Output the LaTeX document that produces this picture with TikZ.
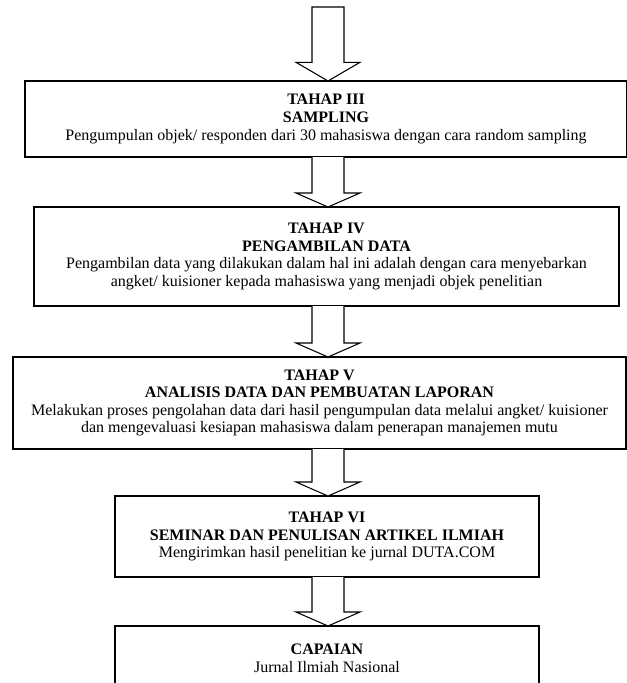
\documentclass[tikz,border=0pt]{standalone}
\usepackage{fontspec}
\setmainfont{Liberation Serif}
\usetikzlibrary{calc}
\begin{document}
\begin{tikzpicture}[x=0.75pt,y=-0.75pt,
  stagebox/.style={draw=black,line width=1.3pt,rectangle,inner sep=0pt,outer sep=0pt,
    align=center,font=\fontsize{12}{13.2}\selectfont},
  blockarr/.style={draw=black,line width=0.8pt,fill=white,line join=miter}]
\useasboundingbox (0,0) rectangle (627,683);
\coordinate (ax) at (328,0);
\coordinate (topend) at (328,7);
\node[stagebox,minimum width=451.5pt,minimum height=57pt] (b1) at (326,119)
  {\textbf{TAHAP III}\\\textbf{SAMPLING}\\Pengumpulan objek/ responden dari 30 mahasiswa dengan cara random sampling};
\node[stagebox,minimum width=438.75pt,minimum height=74.25pt] (b2) at (326.5,256.5)
  {\textbf{TAHAP IV}\\\textbf{PENGAMBILAN DATA}\\Pengambilan data yang dilakukan dalam hal ini adalah dengan cara menyebarkan\\angket/ kuisioner kepada mahasiswa yang menjadi objek penelitian};
\node[stagebox,minimum width=459.75pt,minimum height=69pt] (b3) at (319.5,403)
  {\textbf{TAHAP V}\\\textbf{ANALISIS DATA DAN PEMBUATAN LAPORAN}\\Melakukan proses pengolahan data dari hasil pengumpulan data melalui angket/ kuisioner\\dan mengevaluasi kesiapan mahasiswa dalam penerapan manajemen mutu};
\node[stagebox,minimum width=318pt,minimum height=60.75pt] (b4) at (327,536.5)
  {\textbf{TAHAP VI}\\\textbf{SEMINAR DAN PENULISAN ARTIKEL ILMIAH}\\Mengirimkan hasil penelitian ke jurnal DUTA.COM};
\node[stagebox,minimum width=318pt,minimum height=48pt] (b5) at (327,658)
  {\textbf{CAPAIAN}\\Jurnal Ilmiah Nasional};
% block arrows
\draw[blockarr] let \p1=(topend), \p2=(ax |- b1.north) in
  (\x1-12pt,\y1) -- (\x1-12pt,\y2+14pt) -- (\x1-24pt,\y2+14pt) -- (\x1,\y2)
  -- (\x1+24pt,\y2+14pt) -- (\x1+12pt,\y2+14pt) -- (\x1+12pt,\y1) -- cycle;
\draw[blockarr] let \p1=(ax |- b1.south), \p2=(ax |- b2.north) in
  (\x1-12pt,\y1) -- (\x1-12pt,\y2+10.5pt) -- (\x1-24pt,\y2+10.5pt) -- (\x1,\y2)
  -- (\x1+24pt,\y2+10.5pt) -- (\x1+12pt,\y2+10.5pt) -- (\x1+12pt,\y1);
\draw[blockarr] let \p1=(ax |- b2.south), \p2=(ax |- b3.north) in
  (\x1-12pt,\y1) -- (\x1-12pt,\y2+10.5pt) -- (\x1-24pt,\y2+10.5pt) -- (\x1,\y2)
  -- (\x1+24pt,\y2+10.5pt) -- (\x1+12pt,\y2+10.5pt) -- (\x1+12pt,\y1);
\draw[blockarr] let \p1=(ax |- b3.south), \p2=(ax |- b4.north) in
  (\x1-12pt,\y1) -- (\x1-12pt,\y2+10.5pt) -- (\x1-24pt,\y2+10.5pt) -- (\x1,\y2)
  -- (\x1+24pt,\y2+10.5pt) -- (\x1+12pt,\y2+10.5pt) -- (\x1+12pt,\y1);
\draw[blockarr] let \p1=(ax |- b4.south), \p2=(ax |- b5.north) in
  (\x1-12pt,\y1) -- (\x1-12pt,\y2+10.5pt) -- (\x1-24pt,\y2+10.5pt) -- (\x1,\y2)
  -- (\x1+24pt,\y2+10.5pt) -- (\x1+12pt,\y2+10.5pt) -- (\x1+12pt,\y1);
\end{tikzpicture}
\end{document}
